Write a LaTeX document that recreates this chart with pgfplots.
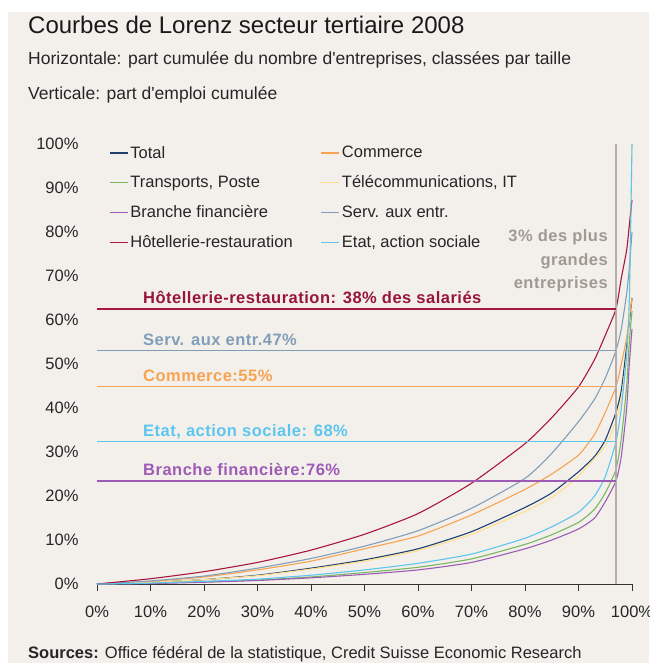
\documentclass[border=0pt]{standalone}
\usepackage{fontspec}
\setmainfont{Liberation Sans}
\usepackage{pgfplots}
\pgfplotsset{compat=1.18}

\definecolor{bg}{HTML}{F3F0EC}
\definecolor{cTotal}{HTML}{1F3F6E}
\definecolor{cCommerce}{HTML}{F7A350}
\definecolor{cTransp}{HTML}{7BB661}
\definecolor{cTelecom}{HTML}{FFDF8C}
\definecolor{cBanque}{HTML}{9E5BB5}
\definecolor{cServ}{HTML}{819EB9}
\definecolor{cHotel}{HTML}{A8173F}
\definecolor{cEtat}{HTML}{5CC6EE}
\definecolor{cGris}{HTML}{B5ADA7}
\definecolor{cGrisTxt}{HTML}{A09A93}

\newcommand{\fs}[1]{\fontsize{#1}{#1}\selectfont}

\begin{document}
\begin{tikzpicture}[x=1pt,y=1pt]
\useasboundingbox (-97,584) rectangle (552,-79);
\fill[white] (-97,584) rectangle (552,-79);
\fill[bg] (-89,572) rectangle (552,-79);

\node[anchor=base west, inner sep=0, font=\fs{24}, text=black!90] at (-69,550) {Courbes de Lorenz secteur tertiaire 2008};
\node[anchor=base west, inner sep=0, font=\fs{17.5}, text=black!85] at (-69,519) {Horizontale: part cumulée du nombre d\textquotesingle entreprises, classées par taille};
\node[anchor=base west, inner sep=0, font=\fs{17.5}, text=black!85] at (-69,484) {Verticale: part d\textquotesingle emploi cumulée};
\node[anchor=base west, inner sep=0, font=\fs{16.5}, text=black!85] at (-69,-74) {\textbf{Sources:} Office fédéral de la statistique, Credit Suisse Economic Research};

\begin{axis}[
    at={(0,0)}, anchor=south west,
    width=535pt, height=440pt, scale only axis,
    xmin=0, xmax=100, ymin=0, ymax=100,
    axis x line*=bottom, axis y line*=left,
    y axis line style={draw=none},
    ytick={0,10,...,100}, xtick={0,10,...,100},
    ytick style={draw=none},
    x axis line style={black!80, line width=0.9pt},
    xtick style={black!80, line width=0.9pt},
    tick align=outside, major tick length=7pt,
    xticklabel={\pgfmathprintnumber{\tick}\%},
    yticklabel={\pgfmathprintnumber{\tick}\%},
    /pgf/number format/assume math mode=true,
    ticklabel style={font=\fs{16.5}, text=black!85},
    yticklabel style={xshift=-8pt},
    xticklabel style={yshift=-11pt},
    legend columns=2,
    legend cell align=left,
    legend style={at={(12pt,440pt)}, anchor=north west, draw=none, fill=none,
        font=\fs{16.5}, text=black!85, row sep=12.2pt,
        /tikz/every even column/.style={column sep=26pt},
        inner sep=0pt},
    legend image code/.code={\draw[#1, line width=1.2pt] (0pt,0pt) -- (18pt,0pt);},
    every axis plot/.append style={line width=1.1pt},
    clip=false,
]
% Total
\addplot[cTotal, smooth, tension=0.35] coordinates {(0,0) (10,0.4) (20,1.0) (30,2.0) (40,3.6) (50,5.5) (60,8.0) (70,11.9) (80,17.4) (85,20.7) (90,25.5) (93,29) (95,32.7) (97,39) (98,44) (99,54) (100,65)};
\addlegendentry{Total}
% Commerce
\addplot[cCommerce, smooth, tension=0.35] coordinates {(0,0) (10,0.6) (20,1.6) (30,3.2) (40,5.2) (50,8.0) (60,10.9) (70,15.7) (80,21.5) (85,25.0) (90,29.3) (93,34) (95,39) (97,44.8) (98,50) (99,56) (100,65)};
\addlegendentry{Commerce}
% Transports
\addplot[cTransp, smooth, tension=0.35] coordinates {(0,0) (10,0.2) (20,0.5) (30,0.9) (40,1.6) (50,2.6) (60,3.8) (70,5.7) (80,9.0) (85,11.2) (90,14.0) (93,17) (95,20.7) (97,26) (98,33) (99,45) (99.5,55) (100,62)};
\addlegendentry{Transports, Poste}
% Telecom
\addplot[cTelecom, smooth, tension=0.35] coordinates {(0,0) (10,0.4) (20,1.0) (30,1.9) (40,3.4) (50,5.2) (60,7.6) (70,11.3) (80,16.5) (85,19.7) (90,24.5) (95,31.5) (97,37) (98,42) (99,52) (99.5,62) (100,100)};
\addlegendentry{Télécommunications, IT}
% Branche financiere
\addplot[cBanque, smooth, tension=0.35] coordinates {(0,0) (10,0.1) (20,0.4) (30,0.8) (40,1.4) (50,2.2) (60,3.2) (70,4.9) (80,8.0) (85,10.0) (90,12.5) (93,15) (95,18.7) (97,23.4) (98,29) (99,40) (99.5,50) (100,58)};
\addlegendentry{Branche financière}
% Serv. aux entr.
\addplot[cServ, smooth, tension=0.35] coordinates {(0,0) (10,0.7) (20,1.8) (30,3.6) (40,5.8) (50,8.6) (60,12.1) (70,17.2) (80,24.0) (85,29.7) (90,36.9) (93,42) (95,46.8) (97,53) (98,58) (99,66) (99.5,72) (100,80)};
\addlegendentry{Serv. aux entr.}
% Hotellerie
\addplot[cHotel, smooth, tension=0.35] coordinates {(0,0) (10,1.2) (20,2.8) (30,4.9) (40,7.7) (50,11.3) (60,16.0) (70,22.9) (80,31.9) (85,37.8) (90,44.8) (93,51) (95,56.5) (97,62.5) (98,69.5) (99,75.9) (99.5,81.6) (100,87.3)};
\addlegendentry{Hôtellerie-restauration}
% Etat
\addplot[cEtat, smooth, tension=0.35] coordinates {(0,0) (10,0.2) (20,0.6) (30,1.1) (40,2.0) (50,3.2) (60,4.7) (70,6.8) (80,10.4) (85,13.0) (90,16.3) (93,20) (95,24.4) (97,32.3) (98,40) (99,52) (99.5,65) (100,100)};
\addlegendentry{Etat, action sociale}

% reference lines
\addplot[cGris, line width=1.3pt, forget plot] coordinates {(97,0) (97,100)};
\addplot[cHotel, forget plot] coordinates {(0,62.5) (97,62.5)};
\addplot[cServ, forget plot] coordinates {(0,53) (97,53)};
\addplot[cCommerce, forget plot] coordinates {(0,44.8) (97,44.8)};
\addplot[cEtat, forget plot] coordinates {(0,32.3) (97,32.3)};
\addplot[cBanque, forget plot] coordinates {(0,23.4) (97,23.4)};

\node[anchor=base west, inner sep=0, font=\fs{16.5}\bfseries\addfontfeature{LetterSpace=3}, text=cHotel!90!black] at (axis cs:8.6,63.8) {Hôtellerie-restauration: 38\% des salariés};
\node[anchor=base west, inner sep=0, font=\fs{16.5}\bfseries\addfontfeature{LetterSpace=3}, text=cServ] at (axis cs:8.6,54.3) {Serv. aux entr.47\%};
\node[anchor=base west, inner sep=0, font=\fs{16.5}\bfseries\addfontfeature{LetterSpace=3}, text=cCommerce] at (axis cs:8.6,46.1) {Commerce:55\%};
\node[anchor=base west, inner sep=0, font=\fs{16.5}\bfseries\addfontfeature{LetterSpace=3}, text=cEtat] at (axis cs:8.6,33.6) {Etat, action sociale: 68\%};
\node[anchor=base west, inner sep=0, font=\fs{16.5}\bfseries\addfontfeature{LetterSpace=3}, text=cBanque] at (axis cs:8.6,24.7) {Branche financière:76\%};
\node[anchor=north east, inner sep=0, align=right, font=\fs{16.5}\bfseries\addfontfeature{LetterSpace=3}, text=cGrisTxt] at (axis cs:95.5,80.5) {3\% des plus\\[7pt]grandes\\[7pt]entreprises};
\end{axis}
\end{tikzpicture}
\end{document}
